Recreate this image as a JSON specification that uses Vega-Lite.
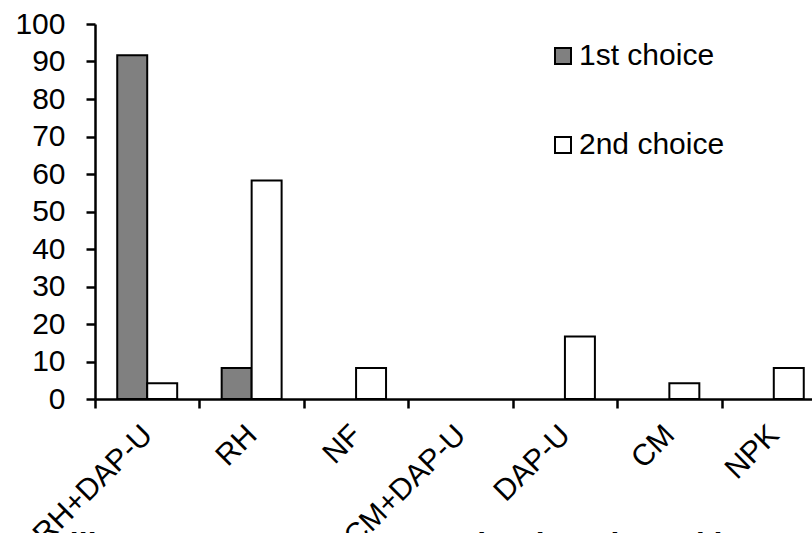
{
  "$schema": "https://vega.github.io/schema/vega-lite/v6.json",
  "autosize": {"type": "none"},
  "padding": {"left": 95, "top": 24, "right": 0, "bottom": 134},
  "width": 731,
  "height": 375,
  "background": "white",
  "data": {
    "values": [
      {"treatment": "RH+DAP-U", "choice": "1st choice", "percent": 91.7},
      {"treatment": "RH+DAP-U", "choice": "2nd choice", "percent": 4.2},
      {"treatment": "RH", "choice": "1st choice", "percent": 8.3},
      {"treatment": "RH", "choice": "2nd choice", "percent": 58.3},
      {"treatment": "NF", "choice": "1st choice", "percent": 0},
      {"treatment": "NF", "choice": "2nd choice", "percent": 8.3},
      {"treatment": "CM+DAP-U", "choice": "1st choice", "percent": 0},
      {"treatment": "CM+DAP-U", "choice": "2nd choice", "percent": 0},
      {"treatment": "DAP-U", "choice": "1st choice", "percent": 0},
      {"treatment": "DAP-U", "choice": "2nd choice", "percent": 16.7},
      {"treatment": "CM", "choice": "1st choice", "percent": 0},
      {"treatment": "CM", "choice": "2nd choice", "percent": 4.2},
      {"treatment": "NPK", "choice": "1st choice", "percent": 0},
      {"treatment": "NPK", "choice": "2nd choice", "percent": 8.3}
    ]
  },
  "mark": {"type": "bar", "stroke": "black", "strokeWidth": 2},
  "encoding": {
    "x": {
      "field": "treatment",
      "type": "nominal",
      "sort": ["RH+DAP-U", "RH", "NF", "CM+DAP-U", "DAP-U", "CM", "NPK"],
      "scale": {"paddingInner": 0, "paddingOuter": 0},
      "axis": {
        "title": "Fertilizer management system in Plantain and banana fields",
        "titleFont": "Liberation Sans",
        "titleFontSize": 32,
        "titleFontStyle": "italic",
        "titleFontWeight": "bold",
        "titleColor": "black",
        "titleBaseline": "top",
        "titleY": 130.5,
        "labelAngle": -45,
        "labelAlign": "right",
        "labelBaseline": "middle",
        "labelFont": "Liberation Sans",
        "labelFontSize": 30,
        "labelColor": "black",
        "labelPadding": 22,
        "labelOverlap": false,
        "labelBound": false,
        "tickBand": "extent",
        "tickSize": 9,
        "tickWidth": 2.5,
        "tickColor": "black",
        "domainColor": "black",
        "domainWidth": 2.5,
        "grid": false
      }
    },
    "xOffset": {
      "field": "choice",
      "type": "nominal",
      "sort": ["1st choice", "2nd choice"],
      "scale": {"paddingInner": 0, "paddingOuter": 0.742}
    },
    "y": {
      "field": "percent",
      "type": "quantitative",
      "scale": {"domain": [0, 100], "nice": false, "zero": true},
      "axis": {
        "title": null,
        "values": [0, 10, 20, 30, 40, 50, 60, 70, 80, 90, 100],
        "labelFont": "Liberation Sans",
        "labelFontSize": 30,
        "labelColor": "black",
        "labelPadding": 21,
        "tickSize": 9,
        "tickWidth": 2.5,
        "tickColor": "black",
        "domainColor": "black",
        "domainWidth": 2.5,
        "grid": false
      }
    },
    "strokeOpacity": {
      "condition": {"test": "datum.percent == 0", "value": 0},
      "value": 1
    },
    "color": {
      "field": "choice",
      "type": "nominal",
      "sort": ["1st choice", "2nd choice"],
      "scale": {"domain": ["1st choice", "2nd choice"], "range": ["#808080", "#ffffff"]},
      "legend": {
        "title": null,
        "orient": "none",
        "legendX": 453,
        "legendY": 17,
        "padding": 0,
        "symbolType": "square",
        "symbolSize": 256,
        "symbolStrokeWidth": 2,
        "symbolStrokeColor": "black",
        "symbolOpacity": 1,
        "labelFont": "Liberation Sans",
        "labelFontSize": 30,
        "labelColor": "black",
        "labelOffset": 1,
        "rowPadding": 59
      }
    }
  },
  "config": {
    "view": {"stroke": null},
    "font": "Liberation Sans"
  }
}
